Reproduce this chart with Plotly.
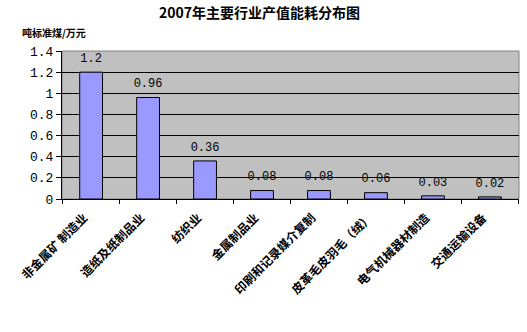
import plotly.graph_objects as go

categories = ["非金属矿 制造业", "造纸及纸制品业", "纺织业", "金属制品业",
              "印刷和记录媒介复制", "皮革毛皮羽毛（绒）", "电气机械器材制造", "交通运输设备"]
values = [1.2, 0.96, 0.36, 0.08, 0.08, 0.06, 0.03, 0.02]
value_labels = ["1.2", "0.96", "0.36", "0.08", "0.08", "0.06", "0.03", "0.02"]
y_ticks = [0, 0.2, 0.4, 0.6, 0.8, 1, 1.2, 1.4]
y_tick_text = ["0", "0.2", "0.4", "0.6", "0.8", "1", "1.2", "1.4"]

cjk = "Noto Sans CJK SC"

fig = go.Figure()
fig.add_trace(go.Bar(
    x=categories, y=values,
    marker=dict(color="#9999FF", line=dict(color="black", width=1)),
    width=0.4, hoverinfo="skip",
))
fig.add_trace(go.Scatter(
    x=categories, y=values, mode="markers+text",
    marker=dict(size=10, opacity=0),
    text=value_labels, textposition="top center", cliponaxis=False,
    textfont=dict(family="Liberation Mono", size=12, color="black"),
    hoverinfo="skip",
))

fig.update_layout(
    width=527, height=332,
    margin=dict(l=62, r=8, t=51, b=133),
    paper_bgcolor="white", plot_bgcolor="#C0C0C0",
    showlegend=False,
    annotations=[
        dict(text="<b>2007年主要行业产值能耗分布图</b>", xref="paper", yref="paper",
             x=(259 - 62) / 457, y=1 + (51 - 12) / 148, xanchor="center", yanchor="middle",
             showarrow=False, font=dict(family=cjk, size=14, color="black")),
        dict(text="<b>吨标准煤/万元</b>", xref="paper", yref="paper",
             x=-(62 - 20) / 457, y=1 + (51 - 33) / 148, xanchor="left", yanchor="middle",
             showarrow=False, font=dict(family=cjk, size=10, color="black")),
    ],
    shapes=[dict(type="rect", xref="paper", yref="paper", x0=0, x1=1, y0=0, y1=1,
                 line=dict(color="#808080", width=1), layer="below")],
)

fig.update_xaxes(
    type="category", tickangle=-45, tickson="boundaries",
    ticks="outside", ticklen=4, tickcolor="black",
    showline=True, linecolor="black", linewidth=1,
    showgrid=False, ticklabelshift=-7, ticklabelstandoff=6,
    tickfont=dict(family=cjk, size=12, color="black", weight="bold"),
)
fig.update_yaxes(
    range=[0, 1.4], tickvals=y_ticks, ticktext=y_tick_text,
    ticks="outside", ticklen=5, tickcolor="black",
    showline=True, linecolor="black", linewidth=1,
    showgrid=True, gridcolor="black", gridwidth=1,
    tickfont=dict(family="Liberation Mono", size=13, color="black"),
    zeroline=False,
)

fig.write_html("out.html")
